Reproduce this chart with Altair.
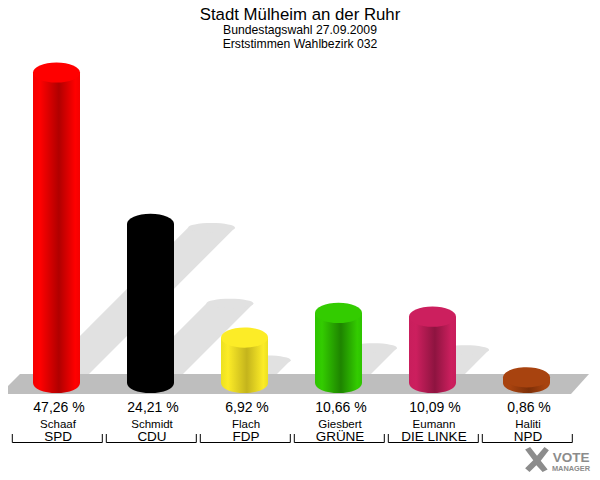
import altair as alt
import pandas as pd

title_lines = ["Stadt Mülheim an der Ruhr", "Bundestagswahl 27.09.2009", "Erststimmen Wahlbezirk 032"]
candidates = ["Schaaf", "Schmidt", "Flach", "Giesbert", "Eumann", "Haliti"]
parties = ["SPD", "CDU", "FDP", "GRÜNE", "DIE LINKE", "NPD"]
percent = [47.26, 24.21, 6.92, 10.66, 10.09, 0.86]
labels = ["47,26 %", "24,21 %", "6,92 %", "10,66 %", "10,09 %", "0,86 %"]
top_colors = ["#ff0000", "#000000", "#fcec27", "#33cc00", "#cc1f5e", "#a8430f"]
edge_colors = ["#f40000", "#000000", "#ece020", "#2dc400", "#c81e5c", "#a8430f"]
mid_colors = ["#b00000", "#000000", "#c4b41c", "#1e8400", "#8e1440", "#7c2f08"]

FONT = "Liberation Sans"
W, H = 584, 464
PX_PCT = 6.57      # pixels per percent
BASE_Y = 383 - 8   # baseline in plot pixels
X0 = 56.5 - 8      # centre of first column
STEP = 94.0
HALF = 23.5 / STEP
SHADOW_X = 3.28 / STEP

x_scale = alt.Scale(domain=[-X0 / STEP, (W - X0) / STEP], nice=False, zero=False)
y_scale = alt.Scale(domain=[(BASE_Y - H) / PX_PCT, BASE_Y / PX_PCT], nice=False, zero=False)
X = lambda f, **k: alt.X(f, type="quantitative", scale=x_scale, axis=None, **k)
Y = lambda f, **k: alt.Y(f, type="quantitative", scale=y_scale, axis=None, **k)

ellipse = "M-1,0 A1,{r} 0 1 1 1,0 A1,{r} 0 1 1 -1,0 Z"
CYL = ellipse.format(r=0.43)
SHA = ellipse.format(r=0.2)
SIZE = 47 ** 2

df = pd.DataFrame({"i": range(6), "pct": percent, "label": labels,
                   "cand": candidates, "party": parties})
df["l"] = df.i - HALF
df["r"] = df.i + HALF
df["zero"] = 0.0
df["half"] = df.pct / 2
df["sx"] = df.i + df.pct * SHADOW_X

# cast shadows
rows = []
for i, p in enumerate(percent):
    for frac in (0, 1):
        off = p * SHADOW_X * frac
        rows.append({"i": i, "y": p / 2 * frac, "l": i - HALF + off, "r": i + HALF + off})
shadow_df = pd.DataFrame(rows)
shadow_col = "#e1e1e1"
shadows = alt.Chart(shadow_df).mark_area(color=shadow_col, orient="horizontal", opacity=1).encode(
    x=X("l", stack=None), x2="r", y=Y("y"), detail="i:N")
shadow_tops = alt.Chart(df).mark_point(shape=SHA, size=SIZE, filled=True, fill=shadow_col, opacity=1, strokeWidth=0).encode(
    x=X("sx"), y=Y("half"))

# floor
floor_y = [-11 / PX_PCT, 9 / PX_PCT]
floor_df = pd.DataFrame({"y": floor_y,
                         "l": [(0 - 56.5) / STEP, (20 - 56.5) / STEP],
                         "r": [(571 - 56.5) / STEP, (589 - 56.5) / STEP]})
floor = alt.Chart(floor_df).mark_area(color="#bebebe", orient="horizontal", opacity=1).encode(
    x=X("l", stack=None), x2="r", y=Y("y"))

layers = [shadows, shadow_tops, floor]

# cylinders
for k in range(6):
    d = df[df.i == k]
    grad = alt.Gradient(gradient="linear", x1=0, x2=1, y1=0, y2=0, stops=[
        alt.GradientStop(color=edge_colors[k], offset=0),
        alt.GradientStop(color=top_colors[k], offset=0.15),
        alt.GradientStop(color=mid_colors[k], offset=0.55),
        alt.GradientStop(color=top_colors[k], offset=0.9),
        alt.GradientStop(color=edge_colors[k], offset=1)])
    layers.append(alt.Chart(d).mark_point(shape=CYL, size=SIZE, filled=True, fill=grad, opacity=1, strokeWidth=0)
                  .encode(x=X("i"), y=Y("zero")))
    layers.append(alt.Chart(d).mark_bar(fill=grad, opacity=1, strokeWidth=0)
                  .encode(x=X("l"), x2="r", y=Y("zero"), y2="pct"))
    layers.append(alt.Chart(d).mark_point(shape=CYL, size=SIZE, filled=True, fill=top_colors[k], opacity=1, strokeWidth=0)
                  .encode(x=X("i"), y=Y("pct")))

# column texts
def column_text(field, y_img, size, dx=1.5):
    return alt.Chart(df).mark_text(font=FONT, fontSize=size, color="#000000", align="center", baseline="middle", dx=dx).encode(
        x=X("i"), y=alt.value(y_img - 8), text=f"{field}:N")

layers += [column_text("label", 408, 14, 2.5), column_text("cand", 425, 11.5), column_text("party", 437, 13.5)]

# brackets
df["bl"] = df.i + (12.3 - 56.5) / STEP
df["br"] = df.i + (102.3 - 56.5) / STEP
bracket_col = "#000000"
layers.append(alt.Chart(df).mark_rule(color=bracket_col, strokeWidth=1).encode(
    x=X("bl"), x2="br", y=alt.value(442.5 - 8)))
layers.append(alt.Chart(df).mark_rule(color=bracket_col, strokeWidth=1).encode(
    x=X("bl"), y=alt.value(434 - 8), y2=alt.value(442.5 - 8)))
layers.append(alt.Chart(df).mark_rule(color=bracket_col, strokeWidth=1).encode(
    x=X("br"), y=alt.value(434 - 8), y2=alt.value(442.5 - 8)))

# header
head_pos = [(15.3, 16.8), (29.5, 12.2), (44, 12.2)]
for t, (yy, sz) in zip(title_lines, head_pos):
    layers.append(alt.Chart(pd.DataFrame({"t": [t]})).mark_text(font=FONT, fontSize=sz, color="#000000", align="center", baseline="middle").encode(
        x=alt.value(300 - 8), y=alt.value(yy - 8), text="t:N"))

# logo
logo_x = "M-0.95,-0.8 L-0.55,-1 L0,-0.3 L0.6,-1 L0.95,-0.75 L0.3,0.1 L0.85,0.8 L0.45,1 L-0.05,0.45 L-0.6,1 L-0.95,0.7 L-0.3,0.05 Z"
layers.append(alt.Chart(pd.DataFrame({"a": [1]})).mark_point(shape=logo_x, size=25 ** 2, filled=True, fill="#8c8c8c", opacity=1, strokeWidth=0).encode(
    x=alt.value(537 - 8), y=alt.value(459.5 - 8)))
for t, yy, sz, xx in [("VOTE", 457.5, 13.5, 571), ("MANAGER", 468.5, 7.4, 571)]:
    layers.append(alt.Chart(pd.DataFrame({"t": [t]})).mark_text(font=FONT, fontSize=sz, fontWeight="bold", color="#8c8c8c", align="center", baseline="middle").encode(
        x=alt.value(xx - 8), y=alt.value(yy - 8), text="t:N"))

chart = alt.layer(*layers).properties(
    width=W, height=H, padding=0,
    autosize=alt.AutoSizeParams(type="none"),
).configure_view(stroke=None)

chart.save("out.html", embed_options={"renderer": "svg", "actions": False})
